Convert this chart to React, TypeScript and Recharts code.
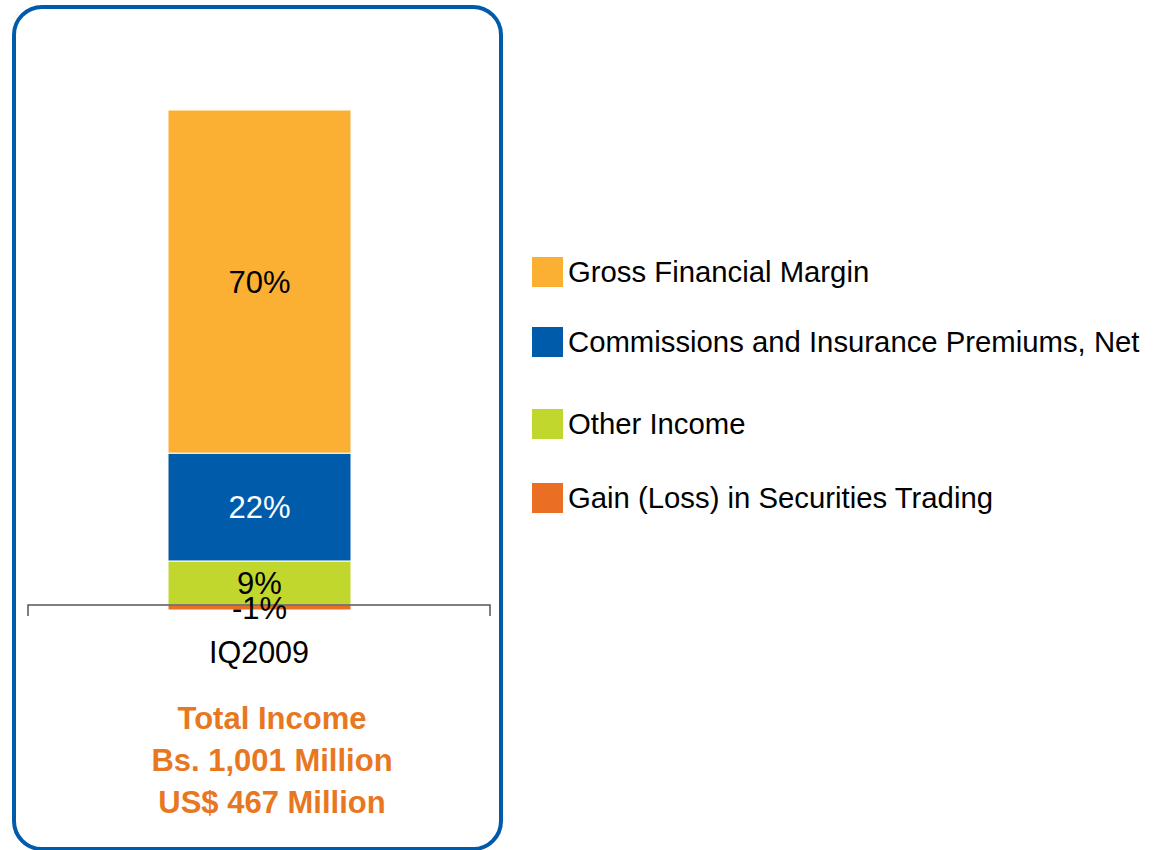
import { BarChart, Bar, XAxis, YAxis, ReferenceLine, LabelList } from 'recharts';

const categories = ['IQ2009'];
const grossFinancialMargin = [70];
const commissionsNet = [22];
const otherIncome = [9];
const securitiesGain = [-1];

const seriesNames = [
  'Gross Financial Margin',
  'Commissions and Insurance Premiums, Net',
  'Other Income',
  'Gain (Loss) in Securities Trading',
];
const seriesColors = ['#FBB034', '#005BAA', '#C1D72E', '#EA6E23'];
const seriesKeys = ['gross', 'commissions', 'other', 'gain'];

const totalLines = ['Total Income', 'Bs. 1,001 Million', 'US$ 467 Million'];

const data = categories.map((name, i) => ({
  name,
  gross: grossFinancialMargin[i],
  commissions: commissionsNet[i],
  other: otherIncome[i],
  gain: securitiesGain[i],
}));

const FONT = '"Liberation Sans", Arial, sans-serif';

// legend rows are not evenly spaced in the original
const legendTops = [257, 327, 409, 483];

const AxisShape = (p: any) => (
  <path
    d={`M${p.x1},${p.y1 + 11}V${p.y1}H${p.x2}V${p.y1 + 11}`}
    fill="none"
    stroke="#555"
    strokeWidth={1.5}
  />
);

const pct = (v: any) => `${v}%`;

// bottom-to-top stacking order differs from legend order
const stackOrder = [2, 1, 0, 3];

export default function App() {
  return (
    <div style={{ position: 'absolute', left: 0, top: 0, width: 1158, height: 850, background: '#fff', overflow: 'hidden' }}>
      <div
        style={{
          position: 'absolute',
          left: 12,
          top: 5,
          width: 491,
          height: 846,
          boxSizing: 'border-box',
          border: '4.5px solid #005BAA',
          borderRadius: 30,
        }}
      />
      <div style={{ position: 'absolute', left: 0, top: 0 }}>
        <BarChart
          width={520}
          height={700}
          data={data}
          stackOffset="sign"
          margin={{ top: 110, right: 30, bottom: 0, left: 28 }}
        >
          <XAxis
            dataKey="name"
            height={90}
            axisLine={false}
            tickLine={false}
            tickSize={0}
            tickMargin={31}
            tick={{ fill: '#000', fontSize: 30.5, fontFamily: FONT }}
          />
          <YAxis hide type="number" domain={[-1, 101]} />
          {stackOrder.map((idx) => (
            <Bar
              key={seriesKeys[idx]}
              dataKey={seriesKeys[idx]}
              name={seriesNames[idx]}
              stackId="a"
              fill={seriesColors[idx]}
              stroke="#fff"
              strokeWidth={1}
              barSize={183}
              isAnimationActive={false}
            >
              <LabelList
                dataKey={seriesKeys[idx]}
                position="center"
                formatter={pct}
                fill={idx === 1 ? '#fff' : '#000'}
                style={{ fontSize: 31, fontFamily: FONT }}
              />
            </Bar>
          ))}
          <ReferenceLine y={0} shape={AxisShape} />
        </BarChart>
      </div>
      {seriesNames.map((name, i) => (
        <div
          key={name}
          style={{
            position: 'absolute',
            left: 532,
            top: legendTops[i],
            height: 30,
            display: 'flex',
            alignItems: 'center',
            fontFamily: FONT,
          }}
        >
          <div style={{ width: 31, height: 30, background: seriesColors[i], marginRight: 5 }} />
          <span style={{ fontSize: 29.3, color: '#000', whiteSpace: 'nowrap' }}>{name}</span>
        </div>
      ))}
      <div
        style={{
          position: 'absolute',
          left: 22,
          top: 698,
          width: 500,
          textAlign: 'center',
          fontFamily: FONT,
          fontWeight: 'bold',
          fontSize: 31,
          lineHeight: '42px',
          color: '#E87722',
        }}
      >
        {totalLines.map((t) => (
          <div key={t}>{t}</div>
        ))}
      </div>
    </div>
  );
}
